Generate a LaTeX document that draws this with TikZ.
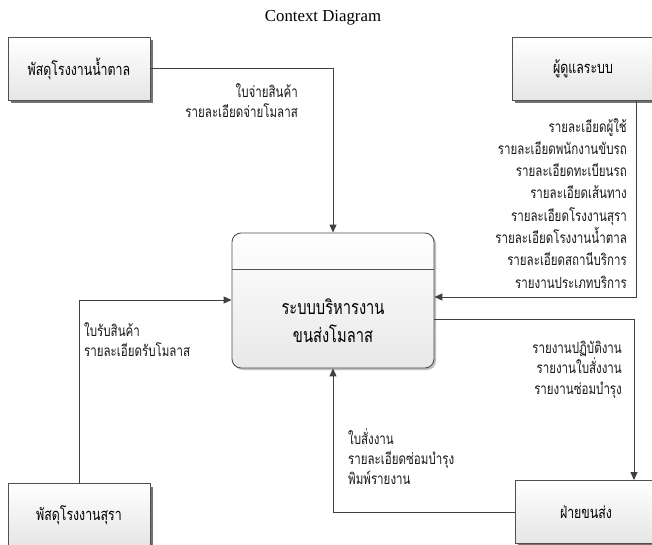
\documentclass[tikz,border=0pt]{standalone}
\usepackage{fontspec}
\setmainfont{Liberation Serif}
\newfontfamily\thai[Script=Thai,FakeStretch=0.75]{Loma}
\usetikzlibrary{arrows.meta,shadows}
\definecolor{linec}{HTML}{404040}
\definecolor{boxedge}{HTML}{505050}
\tikzset{
  ent/.style={draw=boxedge, line width=0.9pt, rectangle, minimum width=142pt, minimum height=63pt,
    inner sep=0pt, top color=white, bottom color=black!10, font=\thai\fontsize{16.5}{18}\selectfont,
    general shadow={fill=black!55, shadow xshift=3pt, shadow yshift=-3pt}},
  proc/.style={draw=boxedge, line width=0.9pt, rectangle, rounded corners=9pt, minimum width=202pt,
    minimum height=135pt, inner sep=0pt, top color=white, bottom color=black!9,
    general shadow={fill=black!25, shadow xshift=2pt, shadow yshift=-2pt}},
  flow/.style={draw=linec, line width=1pt, -{Triangle[length=8pt,width=7pt]}},
  link/.style={draw=linec, line width=1pt},
  lbl/.style={font=\thai\fontsize{15.4}{20.3}\selectfont, inner sep=0pt, text=black!90},
  lblp/.style={font=\thai\fontsize{15.4}{22.3}\selectfont, inner sep=0pt, text=black!90}
}
\begin{document}
\begin{tikzpicture}[x=1pt,y=-1pt]
\useasboundingbox (0,0) rectangle (652,545);
\clip (0,0) rectangle (652,545);
\fill[white] (0,0) rectangle (652,545);
\node (title) at (323,18) {\fontsize{16.8}{18}\selectfont Context Diagram};
% entities
\node[ent] (sugar) at (79,68.5) {พัสดุโรงงานน้ำตาล};
\node[ent] (admin) at (583,68.5) {ผู้ดูแลระบบ};
\node[ent] (liquor) at (79,515) {พัสดุโรงงานสุรา};
\node[ent] (trans) at (586,512) {ฝ่ายขนส่ง};
% process
\node[proc] (sys) at (333,300.5) {};
\draw[boxedge, line width=0.9pt] ([yshift=-37pt]sys.north west) -- ([yshift=-37pt]sys.north east);
\node[font=\thai\fontsize{19.6}{28}\selectfont, align=center] (systxt) at (333,321) {ระบบบริหารงาน\\ขนส่งโมลาส};
% connectors
\coordinate (c1) at (333,69);
\draw[flow] (sugar.east |- c1) -- (c1) -- (sys.north -| c1);
\coordinate (c2) at (636,297);
\draw[flow] (admin.south -| c2) -- (c2) -- (sys.east |- c2);
\coordinate (c3) at (79,300);
\draw[flow] (liquor.north) -- (c3) -- (sys.west |- c3);
\coordinate (c4a) at (434,319);
\coordinate (c4) at (634,319);
\draw[flow] (sys.east |- c4a) -- (c4) -- (trans.north -| c4);
\coordinate (c5) at (333,512);
\draw[flow] (trans.west |- c5) -- (c5) -- (sys.south -| c5);
% labels
\node[lbl, align=right, anchor=north east] (l1) at (298,83) {ใบจ่ายสินค้า\\รายละเอียดจ่ายโมลาส};
\node[lblp, align=right, anchor=north east] (l2) at (627,118) {รายละเอียดผู้ใช้\\รายละเอียดพนักงานขับรถ\\รายละเอียดทะเบียนรถ\\รายละเอียดเส้นทาง\\รายละเอียดโรงงานสุรา\\รายละเอียดโรงงานน้ำตาล\\รายละเอียดสถานีบริการ\\รายงานประเภทบริการ};
\node[lbl, align=left, anchor=north west] (l3) at (84,322) {ใบรับสินค้า\\รายละเอียดรับโมลาส};
\node[lbl, align=right, anchor=north east] (l4) at (622,341) {รายงานปฏิบัติงาน\\รายงานใบสั่งงาน\\รายงานซ่อมบำรุง};
\node[lbl, align=left, anchor=north west] (l5) at (348,428) {ใบสั่งงาน\\รายละเอียดซ่อมบำรุง\\พิมพ์รายงาน};
\end{tikzpicture}
\end{document}
